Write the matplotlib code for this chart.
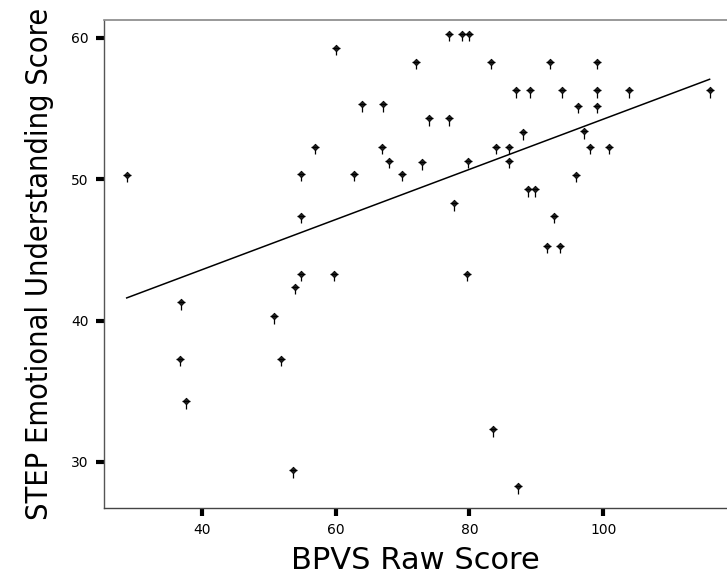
import numpy as np
import matplotlib
matplotlib.use("Agg")
import matplotlib.pyplot as plt
from matplotlib import font_manager

# BPVS raw score vs STEP emotional understanding score
bpvs = [28.8, 36.9, 36.7, 37.7, 50.8, 51.8, 53.9, 53.6, 54.8, 54.9,
        54.9, 57.0, 59.7, 60.1, 62.8, 63.9, 67.0, 67.1, 68.0, 69.9,
        72.0, 72.9, 73.9, 76.9, 77.0, 77.7, 78.9, 79.7, 79.8, 80.0,
        83.2, 83.6, 84.0, 85.9, 85.9, 87.0, 87.3, 88.0, 88.8, 89.0,
        89.8, 91.6, 92.0, 92.7, 93.6, 93.9, 96.0, 96.2, 97.1, 98.0,
        99.1, 99.1, 99.1, 100.9, 103.9, 115.9]
step = [50.3, 41.3, 37.3, 34.3, 40.3, 37.3, 42.4, 29.4, 43.3, 47.4,
        50.4, 52.3, 43.3, 59.3, 50.4, 55.3, 52.3, 55.3, 51.3, 50.4,
        58.3, 51.2, 54.3, 54.3, 60.3, 48.3, 60.3, 43.3, 51.3, 60.3,
        58.3, 32.3, 52.3, 52.3, 51.3, 56.3, 28.3, 53.3, 49.3, 56.3,
        49.3, 45.3, 58.3, 47.4, 45.3, 56.3, 50.3, 55.2, 53.4, 52.3,
        58.3, 56.3, 55.2, 52.3, 56.3, 56.3]

x_ticks = [40, 60, 80, 100]
y_ticks = [30, 40, 50, 60]

x = np.array(bpvs)
y = np.array(step)

fig = plt.figure(figsize=(7.27, 5.82), dpi=100)
ax = fig.add_axes([0.143, 0.127, 0.857, 0.839])

# linear fit line across the data range
slope, intercept = np.polyfit(x, y, 1)
xs = np.array([x.min(), x.max()])
ax.plot(xs, intercept + slope * xs, color="black", linewidth=1.1, zorder=2)

# SPSS style markers: small diamond with a stem
ax.scatter(x, y - 0.25, marker="|", s=36, color="black", linewidths=0.9, zorder=3)
ax.scatter(x, y, marker="D", s=11, color="#222222", edgecolors="black", linewidths=0.6, zorder=4)
ax.scatter(x, y, marker="_", s=30, color="black", linewidths=0.9, zorder=4)

ax.set_xlim(25.4, 118.5)
ax.set_ylim(26.74, 61.27)
ax.set_xticks(x_ticks)
ax.set_yticks(y_ticks)
ax.tick_params(axis="both", direction="out", length=6, width=3, color="black",
               labelsize=10, pad=5)

ax.spines["right"].set_visible(False)
ax.spines["top"].set_color("#888888")
ax.spines["top"].set_linewidth(1.2)
ax.spines["left"].set_linestyle((0, (1, 1)))
ax.spines["left"].set_linewidth(1.0)
ax.spines["left"].set_color("#555555")
ax.spines["bottom"].set_color("#444444")
ax.spines["bottom"].set_linewidth(1.0)

ax.set_xlabel("BPVS Raw Score", fontsize=22, labelpad=6)

# condensed face for the long y label if it is there
names = {f.name + "|" + str(f.stretch) for f in font_manager.fontManager.ttflist}
if any(n.startswith("DejaVu Sans|condensed") or n.startswith("DejaVu Sans|semi-condensed") for n in names):
    ax.set_ylabel("STEP Emotional Understanding Score", fontsize=22,
                  family="DejaVu Sans", stretch="condensed", labelpad=12)
else:
    ax.set_ylabel("STEP Emotional Understanding Score", fontsize=20, labelpad=12)

fig.savefig("out.png", dpi=100)
